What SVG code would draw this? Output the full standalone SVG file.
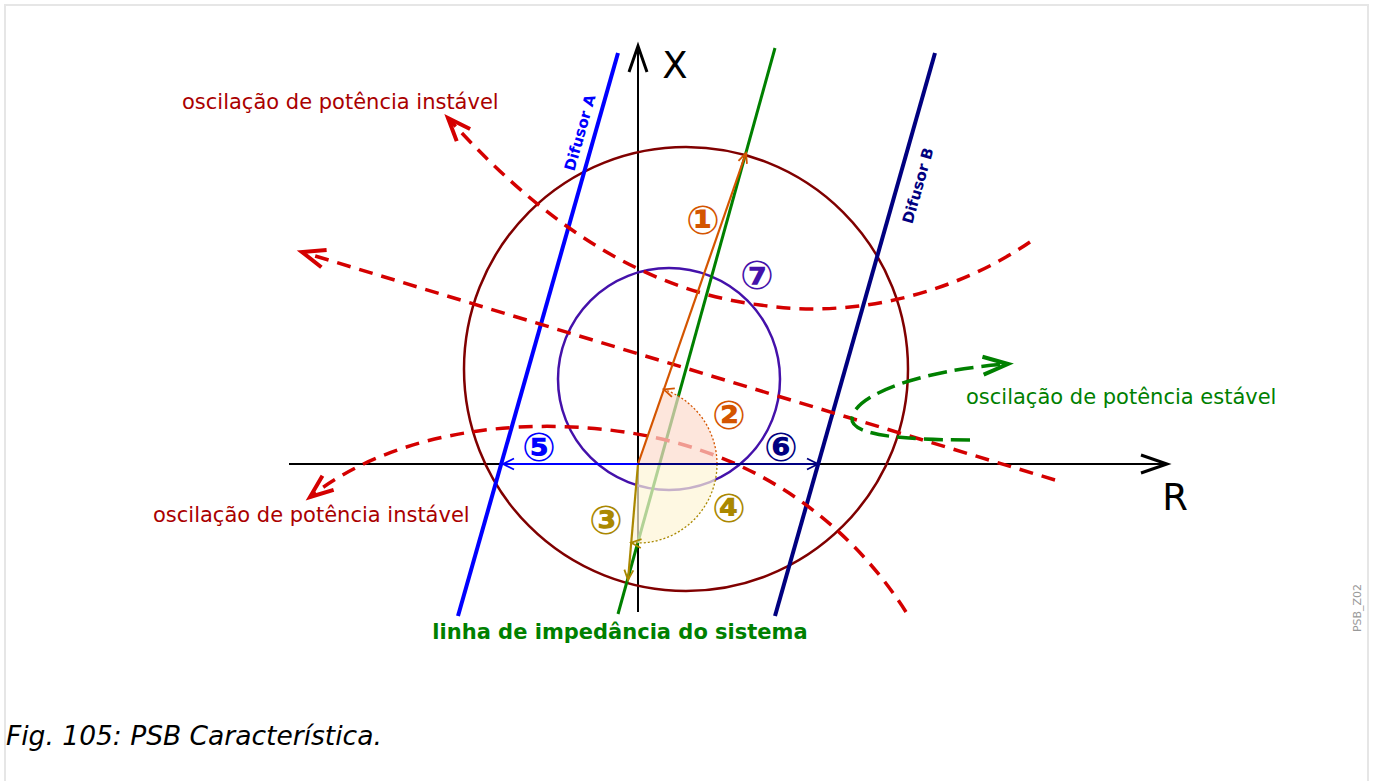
<svg xmlns="http://www.w3.org/2000/svg" width="1373" height="781" viewBox="0 0 1373 781">
<style>
text{font-family:"DejaVu Sans","Liberation Sans",sans-serif}
.lbl{font-size:21px}
.red{fill:#aa0000}
.num{font-size:40px;font-weight:bold;text-anchor:middle}
.dash{fill:none;stroke:#d40000;stroke-width:3.5;stroke-dasharray:14,9}
.thin{fill:none;stroke-width:2.2}
.dot{fill:none;stroke-width:1.3;stroke-dasharray:2,2}
</style>
<defs>
<marker id="mRed" markerUnits="userSpaceOnUse" viewBox="-30 -15 34 30" markerWidth="34" markerHeight="30" refX="0" refY="0" orient="auto" overflow="visible"><path d="M-23,-9 L0,0 L-23,9" fill="none" stroke="#d40000" stroke-width="4"/></marker>
<marker id="mGreen" markerUnits="userSpaceOnUse" viewBox="-30 -15 34 30" markerWidth="34" markerHeight="30" refX="0" refY="0" orient="auto" overflow="visible"><path d="M-25,-9 L0,0 L-25,9" fill="none" stroke="#008000" stroke-width="4"/></marker>
<marker id="mBlack" markerUnits="userSpaceOnUse" viewBox="-30 -15 34 30" markerWidth="34" markerHeight="30" refX="0" refY="0" orient="auto" overflow="visible"><path d="M-26,-9 L0,0 L-26,9" fill="none" stroke="#000" stroke-width="3"/></marker>
<marker id="mOr" markerUnits="userSpaceOnUse" viewBox="-12 -6 14 12" markerWidth="14" markerHeight="12" refX="0" refY="0" orient="auto" overflow="visible"><path d="M-10,-4.5 L0,0 L-10,4.5" fill="none" stroke="#d45500" stroke-width="1.8"/></marker>
<marker id="mGold" markerUnits="userSpaceOnUse" viewBox="-12 -6 14 12" markerWidth="14" markerHeight="12" refX="0" refY="0" orient="auto" overflow="visible"><path d="M-10,-4.5 L0,0 L-10,4.5" fill="none" stroke="#aa8800" stroke-width="1.8"/></marker>
<marker id="mBlue" markerUnits="userSpaceOnUse" viewBox="-12 -6 14 12" markerWidth="14" markerHeight="12" refX="0" refY="0" orient="auto" overflow="visible"><path d="M-11,-5.5 L0,0 L-11,5.5" fill="none" stroke="#0000ff" stroke-width="1.8"/></marker>
<marker id="mNavy" markerUnits="userSpaceOnUse" viewBox="-12 -6 14 12" markerWidth="14" markerHeight="12" refX="0" refY="0" orient="auto" overflow="visible"><path d="M-11,-5.5 L0,0 L-11,5.5" fill="none" stroke="#000080" stroke-width="1.8"/></marker>
</defs>
<rect x="5" y="5" width="1363" height="800" fill="#fff" stroke="#e6e6e6" stroke-width="2"/>

<g id="axes">
<line x1="289" y1="464" x2="1167" y2="464" stroke="#000" stroke-width="2" marker-end="url(#mBlack)"/>
<line x1="638" y1="612" x2="638" y2="46" stroke="#000" stroke-width="2" marker-end="url(#mBlack)"/>
<text x="675" y="78" font-size="37" text-anchor="middle">X</text>
<text x="1175" y="510" font-size="37" text-anchor="middle">R</text>
</g>

<g id="outer-circle"><circle cx="686" cy="369" r="222" fill="none" stroke="#800000" stroke-width="2.5"/></g>
<g id="inner-circle"><circle cx="669" cy="379" r="111" fill="none" stroke="#4411aa" stroke-width="2.5"/></g>

<g id="difusor-a">
<line x1="458" y1="616" x2="618" y2="53" stroke="#0000ff" stroke-width="4"/>
<text transform="translate(585,134) rotate(-74.1)" font-size="15" font-weight="bold" fill="#0000ff" text-anchor="middle">Difusor A</text>
</g>
<g id="difusor-b">
<line x1="775" y1="616" x2="935" y2="53" stroke="#000080" stroke-width="4"/>
<text transform="translate(923,187) rotate(-74.1)" font-size="15" font-weight="bold" fill="#000080" text-anchor="middle">Difusor B</text>
</g>
<g id="impedance-line">
<line x1="618" y1="614" x2="775" y2="48" stroke="#008000" stroke-width="3"/>
<text x="620" y="639" font-size="21" font-weight="bold" fill="#008000" text-anchor="middle">linha de impedância do sistema</text>
</g>

<g id="connectors">
<path class="dash" d="M1030,242 C960,290 860,320 760,305 C640,290 540,220 448,118" marker-end="url(#mRed)"/>
<path class="dash" d="M1055,480 L302,252" marker-end="url(#mRed)"/>
<path class="dash" d="M906,612 C860,540 790,480 700,450 C600,415 420,410 310,497" marker-end="url(#mRed)"/>
<path d="M970,440 C900,440 850,435 852,418 C855,395 920,370 1008,364" fill="none" stroke="#008000" stroke-width="3.5" stroke-dasharray="19,8" marker-end="url(#mGreen)"/>
</g>

<g id="angle-sectors">
<path d="M638,464 L717,464 A79,79 0 0 0 663.9,389.4 Z" fill="#fcdccd" fill-opacity="0.7"/>
<path d="M638,464 L717,464 A79,79 0 0 1 631.2,542.7 Z" fill="#fdf5d6" fill-opacity="0.7"/>
</g>

<g id="vectors">
<line x1="638" y1="464" x2="746" y2="153" stroke="#d45500" class="thin" marker-end="url(#mOr)"/>
<line x1="638" y1="464" x2="628" y2="580" stroke="#aa8800" class="thin" marker-end="url(#mGold)"/>
<path class="dot" stroke="#d45500" d="M717,464 A79,79 0 0 0 663.9,389.4" marker-end="url(#mOr)"/>
<path class="dot" stroke="#aa8800" d="M717,464 A79,79 0 0 1 631.2,542.7" marker-end="url(#mGold)"/>
<line x1="638" y1="464" x2="503" y2="464" stroke="#0000ff" class="thin" marker-end="url(#mBlue)"/>
<line x1="638" y1="464" x2="818" y2="464" stroke="#000080" class="thin" marker-end="url(#mNavy)"/>
</g>

<g id="numbers">
<text class="num" x="703" y="234" fill="#d45500">①</text>
<text class="num" x="729" y="429" fill="#d45500">②</text>
<text class="num" x="606" y="534" fill="#aa8800">③</text>
<text class="num" x="729" y="522" fill="#aa8800">④</text>
<text class="num" x="539" y="461" fill="#0000ff">⑤</text>
<text class="num" x="781" y="461" fill="#000080">⑥</text>
<text class="num" x="757" y="289" fill="#4411aa">⑦</text>
</g>

<g id="labels">
<text class="lbl red" x="182" y="109">oscilação de potência instável</text>
<text class="lbl red" x="153" y="522">oscilação de potência instável</text>
<text class="lbl" x="966" y="404" fill="#008000">oscilação de potência estável</text>
</g>

<text x="6" y="745" font-size="26.5" font-style="italic">Fig. 105: PSB Característica.</text>
<text transform="translate(1361,608) rotate(-90)" font-size="11" fill="#999" text-anchor="middle">PSB_Z02</text>
</svg>
